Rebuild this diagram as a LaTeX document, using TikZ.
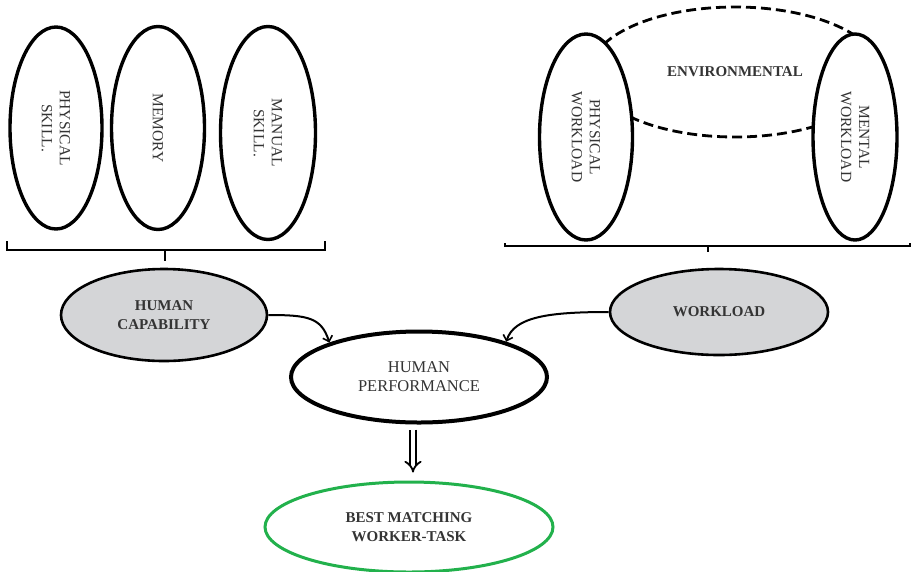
\documentclass[tikz,border=0pt]{standalone}
\usepackage{fontspec}
\setmainfont{Liberation Serif}
\usetikzlibrary{shapes.geometric,arrows.meta}
\definecolor{txt}{RGB}{52,52,52}
\definecolor{capfill}{RGB}{212,213,215}
\definecolor{bestgreen}{RGB}{34,177,76}
\tikzset{
  topell/.style={ellipse, draw, line width=3.4pt, fill=white, inner sep=0pt, rotate=-90,
    text=txt, align=center, font=\fontsize{15.5}{18}\selectfont},
  midell/.style={ellipse, draw, line width=2.6pt, fill=capfill, inner sep=0pt,
    text=txt, align=center, font=\fontsize{15}{19}\selectfont\bfseries},
  bracket/.style={line width=1.8pt},
  conn/.style={line width=2pt, -{Straight Barb[length=5pt,width=10pt,line width=1.6pt]}},
}
\begin{document}
\begin{tikzpicture}[x=1pt,y=-1pt]
\useasboundingbox (0,0) rectangle (912,571);
% left group
\node[topell, minimum width=202pt, minimum height=92pt] (ps) at (56,128) {PHYSICAL\\SKILL.};
\node[topell, minimum width=203pt, minimum height=93pt] (mem) at (158,128) {MEMORY};
\node[topell, minimum width=213pt, minimum height=95pt] (ms) at (268,133) {MANUAL\\SKILL.};
% right group
\node[ellipse, draw, line width=2.8pt, dash pattern=on 10pt off 5pt, minimum width=290pt, minimum height=130pt,
  inner sep=0pt, text=txt, font=\fontsize{15}{18}\selectfont\bfseries] (env) at (735,72) {ENVIRONMENTAL};
\node[topell, minimum width=206pt, minimum height=93pt] (pw) at (586,137) {PHYSICAL\\WORKLOAD};
\node[topell, minimum width=206pt, minimum height=84pt] (mw) at (855,137) {MENTAL\\WORKLOAD};
% brackets
\coordinate (lb1) at (7,241);
\coordinate (lb2) at (325,241);
\coordinate (lbm) at (165,250);
\draw[bracket] (lb1) -- (7,250) -- (325,250) -- (lb2);
\draw[bracket] (lbm) -- (165,261);
\coordinate (rb1) at (505,243);
\coordinate (rb2) at (910,243);
\coordinate (rbm) at (708,246);
\draw[bracket] (rb1) -- (505,246) -- (910,246) -- (rb2);
\draw[bracket] (rbm) -- (708,252);
% middle
\node[midell, minimum width=206pt, minimum height=92pt] (hc) at (164,315) {HUMAN\\CAPABILITY};
\node[midell, minimum width=218pt, minimum height=86pt] (wl) at (719,312) {WORKLOAD};
\node[ellipse, draw, line width=4pt, fill=white, inner sep=0pt, minimum width=256pt, minimum height=91pt,
  text=txt, align=center, font=\fontsize{16.5}{19}\selectfont] (hp) at (419,377) {HUMAN\\PERFORMANCE};
\draw[conn] (hc.east) .. controls +(40,0) and +(-8,-25) .. (hp.159);
\draw[conn] (wl.west) .. controls +(-60,0) and +(8,-25) .. (hp.22);
% bottom
\node[ellipse, draw=bestgreen, line width=3pt, inner sep=0pt, minimum width=288pt, minimum height=90pt,
  text=txt, align=center, font=\fontsize{15}{19}\selectfont\bfseries] (bm) at (409,527) {BEST MATCHING\\WORKER-TASK};
\draw[double, double distance=4pt, line width=1.8pt, -{Implies[scale=1.3]}] ([xshift=-6pt,yshift=-5pt]hp.south) -- ([xshift=4pt,yshift=8pt]bm.north);
\end{tikzpicture}
\end{document}
